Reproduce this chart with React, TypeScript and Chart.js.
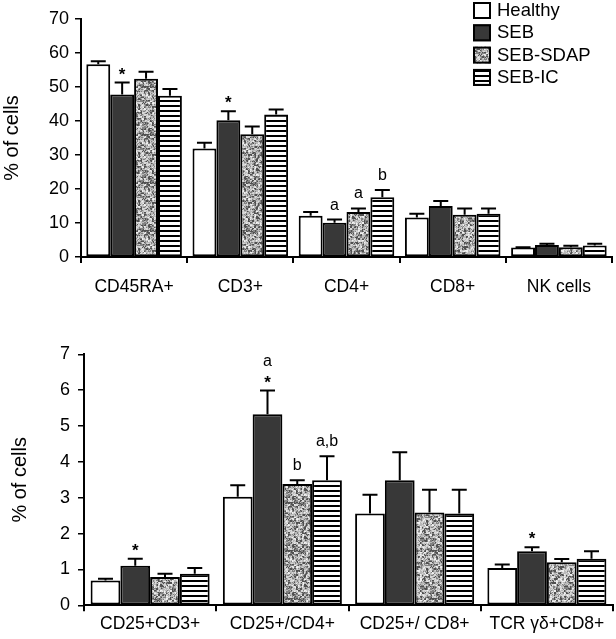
import React, { useEffect, useRef } from "react";
import { Chart, registerables } from "chart.js";

Chart.register(...registerables);

const FONT = "'Liberation Sans', Arial, sans-serif";

const seriesNames = ["Healthy", "SEB", "SEB-SDAP", "SEB-IC"];

// Top panel
const topCategories = ["CD45RA+", "CD3+", "CD4+", "CD8+", "NK cells"];
const topHealthy = [56.7, 31.9, 12.1, 11.6, 2.8];
const topSEB = [47.8, 40.2, 10.1, 15.0, 3.5];
const topSDAP = [52.4, 36.1, 13.2, 12.4, 2.9];
const topIC = [47.4, 41.9, 17.6, 12.7, 3.4];
const topHealthyErr = [0.9, 1.7, 1.1, 1.1, 0.1];
const topSEBErr = [3.5, 2.7, 0.9, 1.5, 0.4];
const topSDAPErr = [2.1, 2.3, 1.1, 1.9, 0.4];
const topICErr = [2.0, 1.5, 2.1, 1.6, 0.5];
const topYTicks = [0, 10, 20, 30, 40, 50, 60, 70];

// Bottom panel
const bottomCategories = ["CD25+CD3+", "CD25+/CD4+", "CD25+/ CD8+", "TCR γδ+CD8+"];
const bottomHealthy = [0.69, 3.03, 2.56, 1.04];
const bottomSEB = [1.1, 5.33, 3.49, 1.51];
const bottomSDAP = [0.79, 3.38, 2.59, 1.2];
const bottomIC = [0.88, 3.49, 2.56, 1.3];
const bottomHealthyErr = [0.05, 0.32, 0.52, 0.1];
const bottomSEBErr = [0.2, 0.66, 0.78, 0.11];
const bottomSDAPErr = [0.09, 0.11, 0.63, 0.09];
const bottomICErr = [0.16, 0.67, 0.66, 0.21];
const bottomYTicks = [0, 1, 2, 3, 4, 5, 6, 7];

// Significance marks: [category index, series index, text]
const topMarks: [number, number, string][] = [
  [0, 1, "*"],
  [1, 1, "*"],
  [2, 1, "a"],
  [2, 2, "a"],
  [2, 3, "b"],
];
const bottomMarks: [number, number, string][] = [
  [0, 1, "*"],
  [1, 1, "*"],
  [1, 1, "a"],
  [1, 2, "b"],
  [1, 3, "a,b"],
  [3, 1, "*"],
];

function speckle(): CanvasPattern | string {
  const n = 48;
  const c = document.createElement("canvas");
  c.width = n;
  c.height = n;
  const ctx = c.getContext("2d");
  if (!ctx) return "#aaa";
  const img = ctx.createImageData(n, n);
  const hash = (a: number, b: number) => {
    let h = (Math.imul(a, 374761393) + Math.imul(b, 668265263)) | 0;
    h = Math.imul(h ^ (h >>> 13), 1274126177);
    h = (h ^ (h >>> 16)) >>> 0;
    return (h & 0xffff) / 0xffff;
  };
  for (let y = 0; y < n; y++) {
    for (let x = 0; x < n; x++) {
      const blk = hash(x >> 1, (y >> 1) + 1000);
      const px = hash(x + 7, y + 3);
      const r = blk * 0.6 + px * 0.4;
      const v = r < 0.3 ? 80 : r < 0.45 ? 130 : r < 0.62 ? 185 : r < 0.8 ? 215 : 240;
      const i = (y * n + x) * 4;
      img.data[i] = v;
      img.data[i + 1] = v;
      img.data[i + 2] = v;
      img.data[i + 3] = 255;
    }
  }
  ctx.putImageData(img, 0, 0);
  return ctx.createPattern(c, "repeat") || "#aaa";
}

function stripes(): CanvasPattern | string {
  const c = document.createElement("canvas");
  c.width = 4;
  c.height = 5;
  const ctx = c.getContext("2d");
  if (!ctx) return "#888";
  ctx.fillStyle = "#fff";
  ctx.fillRect(0, 0, 4, 5);
  ctx.fillStyle = "#000";
  ctx.fillRect(0, 0, 4, 2);
  return ctx.createPattern(c, "repeat") || "#888";
}

type Panel = {
  width: number;
  height: number;
  categories: string[];
  values: number[][];
  errors: number[][];
  yTicks: number[];
  marks: [number, number, string][];
  pad: { left: number; right: number; top: number; bottom: number };
  yWidth: number;
  xHeight: number;
  xPadding: number;
  yPadding: number;
  titlePad: number;
  legend: boolean;
};

function buildChart(canvas: HTMLCanvasElement, p: Panel) {
  const fills = ["#ffffff", "#383838", speckle(), stripes()];

  const errorPlugin = {
    id: "errs",
    afterDatasetsDraw(chart: any) {
      const ctx = chart.ctx;
      const ys = chart.scales.y;
      ctx.save();
      ctx.strokeStyle = "#000";
      ctx.lineWidth = 2;
      chart.data.datasets.forEach((ds: any, di: number) => {
        const meta = chart.getDatasetMeta(di);
        meta.data.forEach((el: any, i: number) => {
          const v = p.values[di][i];
          const e = p.errors[di][i];
          const yTop = ys.getPixelForValue(v + e);
          const y0 = ys.getPixelForValue(v);
          ctx.beginPath();
          ctx.moveTo(el.x, y0);
          ctx.lineTo(el.x, yTop);
          ctx.moveTo(el.x - 7.5, yTop);
          ctx.lineTo(el.x + 7.5, yTop);
          ctx.stroke();
        });
      });
      // marks
      const stack: Record<string, number> = {};
      p.marks.forEach(([ci, si, text]) => {
        const el = chart.getDatasetMeta(si).data[ci];
        const v = p.values[si][ci] + p.errors[si][ci];
        const yTop = ys.getPixelForValue(v);
        const key = ci + "-" + si;
        const level = stack[key] || 0;
        stack[key] = level + 1;
        ctx.fillStyle = "#000";
        ctx.textAlign = "center";
        ctx.textBaseline = "alphabetic";
        if (text === "*") {
          ctx.font = "bold 17px " + FONT;
          ctx.fillText(text, el.x, yTop - 3 - level * 20);
        } else {
          ctx.font = "16px " + FONT;
          ctx.fillText(text, el.x, yTop - (level > 0 ? 25 : 10));
        }
      });
      ctx.restore();
    },
  };

  const legendPlugin = {
    id: "customLegend",
    afterDraw(chart: any) {
      if (!p.legend) return;
      const ctx = chart.ctx;
      ctx.save();
      seriesNames.forEach((name, i) => {
        const bx = 473;
        const by = 2 + i * 22.3;
        ctx.fillStyle = fills[i] as any;
        ctx.fillRect(bx, by, 18, 17);
        ctx.strokeStyle = "#000";
        ctx.lineWidth = 2;
        ctx.strokeRect(bx + 1, by + 1, 16, 15);
        ctx.fillStyle = "#000";
        ctx.font = "18.5px " + FONT;
        ctx.textAlign = "left";
        ctx.textBaseline = "middle";
        ctx.fillText(name, 497, by + 9);
      });
      ctx.restore();
    },
  };

  return new Chart(canvas, {
    type: "bar",
    data: {
      labels: p.categories,
      datasets: seriesNames.map((name, i) => ({
        label: name,
        data: p.values[i],
        backgroundColor: fills[i] as any,
        borderColor: "#000",
        borderWidth: 2,
        borderSkipped: false,
        categoryPercentage: 0.9,
        barPercentage: 1.0,
      })),
    },
    options: {
      responsive: false,
      animation: false,
      events: [],
      layout: { padding: p.pad },
      plugins: {
        legend: { display: false },
        tooltip: { enabled: false },
      },
      scales: {
        x: {
          offset: true,
          grid: {
            display: true,
            offset: true,
            drawOnChartArea: false,
            drawTicks: true,
            tickLength: 6,
            color: "#000",
            lineWidth: 2,
          },
          border: { display: true, color: "#000", width: 2 },
          ticks: {
            color: "#000",
            font: { family: FONT, size: 17.5 },
            padding: p.xPadding,
            maxRotation: 0,
            autoSkip: false,
          },
          afterFit: (s: any) => {
            s.height = p.xHeight;
          },
        },
        y: {
          min: p.yTicks[0],
          max: p.yTicks[p.yTicks.length - 1],
          afterBuildTicks: (s: any) => {
            s.ticks = p.yTicks.map((v) => ({ value: v }));
          },
          grid: {
            display: true,
            drawOnChartArea: false,
            drawTicks: true,
            tickLength: 6,
            color: "#000",
            lineWidth: 1.5,
          },
          border: { display: true, color: "#000", width: 2 },
          ticks: {
            color: "#000",
            font: { family: FONT, size: 18 },
            padding: p.yPadding,
          },
          title: {
            display: true,
            text: "% of cells",
            color: "#000",
            font: { family: FONT, size: 20 },
            padding: { top: p.titlePad, bottom: 0 },
          },
          afterFit: (s: any) => {
            s.width = p.yWidth;
          },
        },
      },
    },
    plugins: [errorPlugin, legendPlugin],
  } as any);
}

const topPanel: Panel = {
  width: 616,
  height: 310,
  categories: topCategories,
  values: [topHealthy, topSEB, topSDAP, topIC],
  errors: [topHealthyErr, topSEBErr, topSDAPErr, topICErr],
  yTicks: topYTicks,
  marks: topMarks,
  pad: { left: 0, right: 4, top: 19, bottom: 0 },
  yWidth: 81,
  xHeight: 53,
  xPadding: 14,
  yPadding: 6,
  titlePad: 0,
  legend: true,
};

const bottomPanel: Panel = {
  width: 616,
  height: 319,
  categories: bottomCategories,
  values: [bottomHealthy, bottomSEB, bottomSDAP, bottomIC],
  errors: [bottomHealthyErr, bottomSEBErr, bottomSDAPErr, bottomICErr],
  yTicks: bottomYTicks,
  marks: bottomMarks,
  pad: { left: 0, right: 3, top: 34.3, bottom: 0 },
  yWidth: 84,
  xHeight: 33.7,
  xPadding: 2,
  yPadding: 8,
  titlePad: 8,
  legend: false,
};

function PanelChart({ panel, top }: { panel: Panel; top: number }) {
  const ref = useRef<HTMLCanvasElement | null>(null);
  useEffect(() => {
    if (!ref.current) return;
    const chart = buildChart(ref.current, panel);
    return () => chart.destroy();
  }, [panel]);
  return (
    <canvas
      ref={ref}
      width={panel.width}
      height={panel.height}
      style={{ position: "absolute", left: 0, top, width: panel.width, height: panel.height }}
    />
  );
}

export default function App() {
  return (
    <div style={{ position: "absolute", left: 0, top: 0, width: 616, height: 639, background: "#fff" }}>
      <PanelChart panel={topPanel} top={0} />
      <PanelChart panel={bottomPanel} top={320} />
    </div>
  );
}
